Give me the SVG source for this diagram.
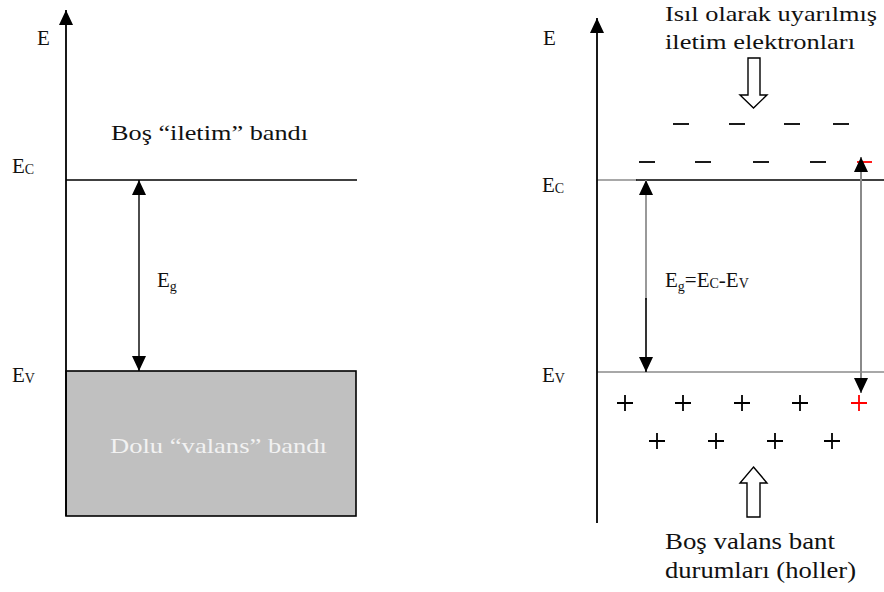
<svg xmlns="http://www.w3.org/2000/svg" width="884" height="592" viewBox="0 0 884 592" font-family="'Liberation Serif', 'DejaVu Serif', serif">
<style>
text{font-family:'Liberation Serif','DejaVu Serif',serif;fill:#111;}
.lbl{font-size:21px;}
.sub{font-size:14px;}
.big{font-size:22px;}
.big2{font-size:24px;}
.ax{stroke:#000;stroke-width:1.8;fill:none;}
.ln{stroke:#000;stroke-width:1.4;fill:none;}
.gl{stroke:#a8a8a8;stroke-width:2;fill:none;}
.sign{stroke:#000;stroke-width:1.8;fill:none;}
.red{stroke:#ff0000;}
.hollow{fill:#fff;stroke:#000;stroke-width:1.4;}
</style>
<defs>
<marker id="ah" markerUnits="userSpaceOnUse" markerWidth="16" markerHeight="14" refX="15" refY="7" orient="auto-start-reverse" viewBox="0 0 16 14">
<path d="M0,0 L15,7 L0,14 z" fill="#000"/>
</marker>
</defs>
<rect width="884" height="592" fill="#fff"/>

<g id="left-valence-band">
<rect x="66" y="371" width="290" height="145" fill="#c0c0c0" stroke="#000" stroke-width="1.6"/>
<text class="big" x="110" y="453" style="fill:#f2f2f2" textLength="217" lengthAdjust="spacingAndGlyphs">Dolu “valans” bandı</text>
</g>
<g id="left-conduction-band">
<line class="ln" x1="66" y1="180" x2="357" y2="180"/>
<text class="big" x="111" y="140" textLength="197" lengthAdjust="spacingAndGlyphs">Boş “iletim” bandı</text>
</g>
<g id="left-labels">
<text class="lbl" x="37" y="45">E</text>
<text class="lbl" x="12" y="173">E<tspan class="sub" dy="1">C</tspan></text>
<text class="lbl" x="12" y="382">E<tspan class="sub" dy="1">V</tspan></text>
<text class="lbl" x="157" y="287">E<tspan class="sub" dy="4">g</tspan></text>
</g>

<g id="right-bands">
<line class="gl" x1="597" y1="180" x2="637" y2="180"/>
<line class="ln" x1="636" y1="180" x2="884" y2="180"/>
<line class="gl" x1="597" y1="372" x2="884" y2="372"/>
</g>
<g id="right-labels">
<text class="lbl" x="543" y="45">E</text>
<text class="lbl" x="542" y="192">E<tspan class="sub" dy="1">C</tspan></text>
<text class="lbl" x="542" y="382">E<tspan class="sub" dy="1">V</tspan></text>
<text class="lbl" x="665" y="287">E<tspan class="sub" dy="4">g</tspan><tspan dy="-4">=E</tspan><tspan class="sub" dy="1">C</tspan><tspan dy="-1">-E</tspan><tspan class="sub" dy="1">V</tspan></text>
</g>
<g id="electrons-label">
<text class="big" x="665" y="21" textLength="212" lengthAdjust="spacingAndGlyphs">Isıl olarak uyarılmış</text>
<text class="big" x="665" y="49" textLength="190" lengthAdjust="spacingAndGlyphs">iletim elektronları</text>
<polygon class="hollow" points="748,58 760,58 760,95 767,95 753.5,108 740,95 748,95"/>
</g>
<g id="electrons">
<line class="sign" x1="673" y1="124" x2="689" y2="124"/>
<line class="sign" x1="729" y1="124" x2="745" y2="124"/>
<line class="sign" x1="784" y1="124" x2="800" y2="124"/>
<line class="sign" x1="833" y1="124" x2="849" y2="124"/>
<line class="sign" x1="639" y1="162" x2="655" y2="162"/>
<line class="sign" x1="695" y1="162" x2="711" y2="162"/>
<line class="sign" x1="753" y1="162" x2="769" y2="162"/>
<line class="sign" x1="810" y1="162" x2="826" y2="162"/>
<line class="sign red" x1="857" y1="162" x2="872" y2="162"/>
</g>
<g id="holes">
<path class="sign" d="M617,403 h16 M625,395 v16"/>
<path class="sign" d="M675,403 h16 M683,395 v16"/>
<path class="sign" d="M734,403 h16 M742,395 v16"/>
<path class="sign" d="M792,403 h16 M800,395 v16"/>
<path class="sign red" d="M851,403 h16 M859,395 v16"/>
<path class="sign" d="M649,441 h16 M657,433 v16"/>
<path class="sign" d="M708,441 h16 M716,433 v16"/>
<path class="sign" d="M767,441 h16 M775,433 v16"/>
<path class="sign" d="M824,441 h16 M832,433 v16"/>
</g>
<g id="holes-label">
<polygon class="hollow" points="753.5,467 767,483 760,483 760,517 747,517 747,483 740,483"/>
<text class="big2" x="665" y="549" textLength="170" lengthAdjust="spacingAndGlyphs">Boş valans bant</text>
<text class="big2" x="665" y="578" textLength="191" lengthAdjust="spacingAndGlyphs">durumları (holler)</text>
</g>

<g id="connectors">
<line class="ax" x1="66" y1="516" x2="66" y2="10" marker-end="url(#ah)"/>
<line class="ln" x1="139" y1="180" x2="139" y2="371" marker-start="url(#ah)" marker-end="url(#ah)"/>
<line class="ax" x1="597" y1="523" x2="597" y2="18" marker-end="url(#ah)"/>
<line stroke="#999" stroke-width="2" x1="646" y1="300" x2="646" y2="180" marker-end="url(#ah)"/>
<line stroke="#000" stroke-width="1.6" x1="646" y1="298" x2="646" y2="372" marker-end="url(#ah)"/>
<line stroke="#8a8a8a" stroke-width="2" x1="861" y1="157" x2="861" y2="393" marker-start="url(#ah)" marker-end="url(#ah)"/>
</g>
</svg>
